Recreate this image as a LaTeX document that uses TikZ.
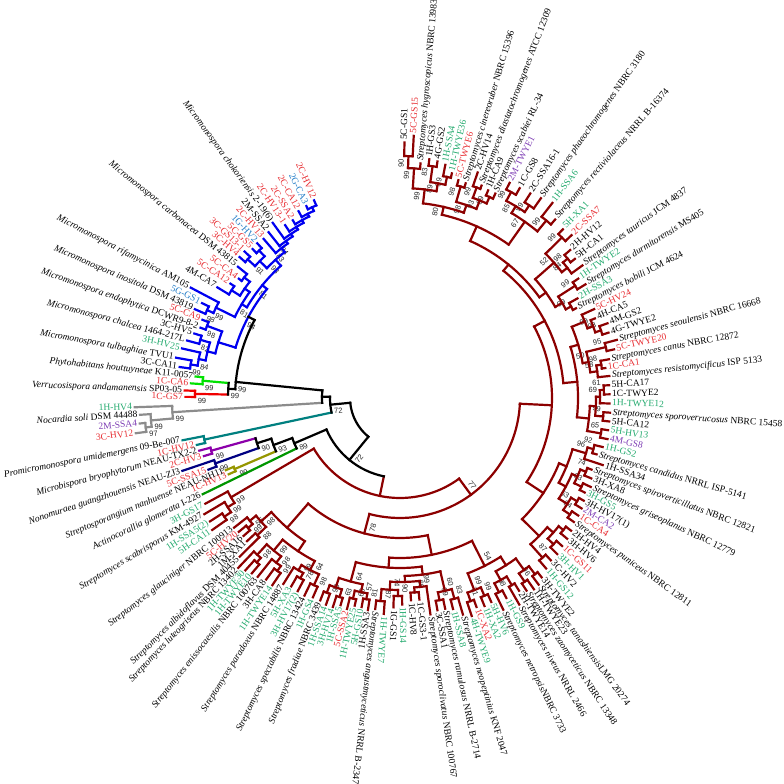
\documentclass[tikz,border=0pt]{standalone}
\usepackage{fontspec}
\setmainfont{Liberation Serif}
\setsansfont{Liberation Sans}

% branch colours
\definecolor{cstrep}{RGB}{140,0,0}
\definecolor{cblue}{RGB}{0,0,240}
\definecolor{clime}{RGB}{0,225,0}
\definecolor{cred}{RGB}{240,0,0}
\definecolor{cgray}{RGB}{140,140,140}
\definecolor{cteal}{RGB}{0,128,128}
\definecolor{cpurple}{RGB}{140,0,170}
\definecolor{cnavy}{RGB}{0,0,130}
\definecolor{colive}{RGB}{150,150,0}
\definecolor{cgreen}{RGB}{0,150,0}
% label colours
\definecolor{tred}{RGB}{232,45,50}
\definecolor{tgreen}{RGB}{35,170,110}
\definecolor{tblue}{RGB}{35,125,200}
\definecolor{tpurple}{RGB}{125,60,180}

\tikzset{
  branch/.style={line width=2.2pt, line cap=rect},
  leaflabel/.style={font=\fontsize{9.5}{11}\selectfont, inner sep=0pt},
  bootlabel/.style={font=\sffamily\fontsize{7.5}{8}\selectfont, inner sep=0pt, text=black!85}
}

\newcommand\putval[3]{\expandafter\xdef\csname #1@#2\endcsname{#3}}
\newcommand\getval[2]{\csname #1@#2\endcsname}
\newcommand\sname[2]{\textit{#1} #2}
\def\nob{-}

% leaf: index, angle, tip radius, label colour, branch colour, text
\newcommand\placeleaf[6]{%
  \pgfmathsetmacro\rr{#3-2.5}%
  \putval{ang}{#1}{#2}\putval{rad}{#1}{\rr}\putval{col}{#1}{#5}%
  \coordinate (P#1) at (#2:\rr pt);
  \ifdim #2pt<-98pt
    \node[leaflabel,text=#4,rotate=#2+180,anchor=mid east] (L#1) at (#2:#3pt) {#6};
  \else
    \node[leaflabel,text=#4,rotate=#2,anchor=mid west] (L#1) at (#2:#3pt) {#6};
  \fi}

% clade: name, first child, last child, radius, stem position, arc colour, stem colour, bootstrap
\newcommand\placeclade[8]{%
  \edef\af{\getval{ang}{#2}}\edef\al{\getval{ang}{#3}}%
  \edef\cf{\getval{col}{#2}}\edef\cl{\getval{col}{#3}}%
  \pgfmathsetmacro\am{\af+#5*(\al-\af)}%
  \putval{ang}{#1}{\am}\putval{rad}{#1}{#4}\putval{col}{#1}{#7}%
  \coordinate (P#1) at (\am:#4pt);
  \draw[branch,draw=\cf] (\af:#4pt) -- (P#2);
  \draw[branch,draw=\cl] (\al:#4pt) -- (P#3);
  \draw[branch,draw=#6] (\af:#4pt) arc[start angle=\af,end angle=\al,radius=#4pt];
  \edef\bv{#8}%
  \ifx\bv\nob\else
    \pgfmathsetmacro\ba{\am+420/#4}%
    \pgfmathsetmacro\br{#4-7}%
    \pgfmathsetmacro\rot{(\am<(-98))?(\am+180):(\am)}%
    \node[bootlabel,rotate=\rot] (B#1) at (\ba:\br pt) {#8};
  \fi}

\begin{document}
\begin{tikzpicture}[x=1pt,y=1pt]
\fill[white] (0,0) rectangle (784,784);
\useasboundingbox (0,0) rectangle (784,784);
\begin{scope}[shift={(400,386)}]

% Streptomyces leaves
\foreach \li/\lan/\ltp/\lco/\ltx in {
  1/89/258/black/5C-GS1, 2/87/265/tred/5C-GS15,
  3/85/238/black/{\sname{Streptomyces hygroscopicus}{NBRC 13983}},
  4/83/243/black/1H-GS3, 5/81/242/black/4G-GS2,
  6/79/240/tgreen/1H-SSA4, 7/77/233/tgreen/1H-TWYE36,
  8/75/228/tred/5C-TWYE6,
  9/73/227/black/{\sname{Streptomyces cinereoruber}{NBRC 15396}},
  10/71/241/black/2C-HV14,
  11/69/230/black/{\sname{Streptomyces diastatochromogenes}{ATCC 12309}},
  12/67/228/black/1H-CA9,
  13/65/228/black/{\sname{Streptomyces scabiei}{RL-34}},
  14/63/244/tpurple/2M-TWYE1, 15/60.3/244/black/1C-GS8,
  16/57.5/245/black/2C-SSA16-1,
  17/54.8/247/black/{\sname{Streptomyces phaeochromogenes}{NBRC 3180}},
  18/52/250/tgreen/1H-SSA6,
  19/49/239/black/{\sname{Streptomyces rectiviolaceus}{NRRL B-16374}},
  20/46/237/tgreen/5H-XA1, 21/43.5/239/tred/2C-SSA7,
  22/41/228/black/2H-HV12, 23/38.5/226/black/5H-CA1,
  24/36/228/black/{\sname{Streptomyces tauricus}{JCM 4837}},
  25/33.8/217/tgreen/1H-TWYE2,
  26/31.5/220/black/{\sname{Streptomyces durmitorensis}{MS405}},
  27/29.3/206/tgreen/2H-SSA3,
  28/27/200/black/{\sname{Streptomyces bobili}{JCM 4624}},
  29/24.6/216/tred/5C-HV24, 30/22.2/213/black/4H-CA5,
  31/19.8/223/black/4M-GS2, 32/17.4/221/black/4G-TWYE2,
  33/15/227/black/{\sname{Streptomyces seoulensis}{NBRC 16668}},
  34/12.8/222/tred/5C-TWYE20,
  35/10.5/215/black/{\sname{Streptomyces canus}{NBRC 12872}},
  36/8.3/210/tred/1C-CA1,
  37/6/213/black/{\sname{Streptomyces resistomycificus}{ISP 5133}},
  38/3.5/212/black/5H-CA17, 39/1/212/black/1C-TWYE2,
  40/-1.5/212/tgreen/1H-TWYE12,
  41/-4/213/black/{\sname{Streptomyces sporoverrucosus}{NBRC 15458}},
  42/-6.4/213/black/5H-CA12, 43/-8.8/213/tgreen/5H-HV13,
  44/-11.2/214/tpurple/4M-GS8, 45/-13.6/211/tgreen/1H-GS2,
  46/-16/207/black/{\sname{Streptomyces candidus}{NRRL ISP-5141}},
  47/-18.3/216/black/1H-SSA34,
  48/-20.5/207/black/{\sname{Streptomyces spiroverticillatus}{NBRC 12821}},
  49/-22.8/210/black/3H-XA8,
  50/-25/213/black/{\sname{Streptomyces griseoplanus}{NBRC 12779}},
  51/-27.1/210/tgreen/3H-GS5, 52/-29.2/213/black/3H-HV17(1),
  53/-31.3/215/tpurple/2M-CA2, 54/-33.4/216/tred/1C-CA4,
  55/-35.5/216/black/{\sname{Streptomyces puniceus}{NBRC 12811}},
  56/-37.8/219/black/2H-HV4, 57/-40.1/221/black/3H-HV6,
  58/-42.4/222/tred/1C-GS11, 59/-44.8/224/tgreen/3H-HV1,
  60/-47.1/224/black/3C-HV2, 61/-49.4/227/tgreen/1H-GS12,
  62/-51.7/231/black/3H-TWYE2,
  63/-53.4/235/black/{\textit{Streptomyces tanashiensis}LMG 20274},
  64/-55/236/black/1H-TWYE23,
  65/-56.7/233/black/{\sname{Streptomyces zaomyceticus}{NBRC 13348}},
  66/-58.3/229/black/2H-TWYE14,
  67/-60/241/black/{\sname{Streptomyces niveus}{NRRL 2466}},
  68/-62/229/tgreen/1H-GS9,
  69/-64/238/black/{\textit{Streptomyces netropsis}NBRC 3733},
  70/-65.9/226/tgreen/5H-HV6, 71/-67.9/227/tgreen/1H-XA2,
  72/-69.9/225/tred/1C-XA2, 73/-71.8/232/tgreen/4H-TWYE9,
  74/-73.8/228/black/{\sname{Streptomyces neopeptinius}{KNF 2047}},
  75/-75.9/220/tgreen/1H-SSA8,
  76/-77.9/218/black/{\sname{Streptomyces ramulosus}{NRRL B-2714}},
  77/-80/218/black/3C-SSA1,
  78/-82/221/black/{\sname{Streptomyces sporoclivatus}{NBRC 100767}},
  79/-84.5/205/black/1C-GS3-1, 80/-86.9/205/black/1C-HV8,
  81/-89.4/209/tgreen/1H-GS14, 82/-91.8/212/black/1G-GS1,
  83/-94.3/219/tgreen/1H-TWYE7,
  84/-96.7/215/black/{\sname{Streptomyces angustmyceticus}{NRRL B-2347}},
  85/-98.6/217/black/1H-SSA3, 86/-100.4/215/tgreen/5H-GS10,
  87/-102.3/215/tgreen/1H-TWYE25, 88/-104.1/220/tred/5C-SSA2,
  89/-106/218/tgreen/1H-SSA5, 90/-107.8/222/tgreen/3H-HV14,
  91/-109.7/222/tgreen/1H-SSA14,
  92/-111.5/220/black/{\sname{Streptomyces fradiae}{NBRC 3439}},
  93/-113.6/220/tgreen/1H-GS4,
  94/-115.8/222/black/{\sname{Streptomyces spectabilis}{NBRC 13424}},
  95/-117.9/221/tgreen/3H-HV17(2), 96/-120/220/tgreen/5H-XA3,
  97/-122.1/222/black/{\sname{Streptomyces paradoxus}{NBRC 14887}},
  98/-124.3/229/tgreen/1H-TWYE14, 99/-126.4/228/black/3H-CA8,
  100/-128.5/231/black/{\sname{Streptomyces enissocaesilis}{NBRC 100763}},
  101/-130.2/232/tgreen/1H-TWYE10, 102/-131.9/234/tgreen/1H-TWYE30,
  103/-133.6/237/black/{\sname{Streptomyces luteogriseus}{NBRC 13402}},
  104/-135.3/228/black/{\sname{Streptomyces albidoflavus}{DSM 40455}},
  105/-136.9/212/black/1M-XA1, 106/-138.6/211/black/2H-SSA16,
  107/-140.3/212/tred/5C-HV20,
  108/-142/213/black/{\sname{Streptomyces glauciniger}{NBRC 100913}},
  109/-144.9/232/tgreen/5H-CA11, 110/-147/229/tgreen/1H-SSA5(2),
  111/-149.3/230/black/{\sname{Streptomyces scabrisporus}{KM-4927}},
  112/-151.5/224/tgreen/3H-GS17}
  {\placeleaf{\li}{\lan}{\ltp}{\lco}{cstrep}{\ltx}}

% other genera
\foreach \li/\lan/\ltp/\lco/\lsc/\ltx in {
  113/-154/222/black/cgreen/{\sname{Actinocorallia glomerata}{I-226}},
  114/-156/190/tred/colive/1C-HV13,
  115/-157.5/191/black/colive/{\sname{Streptosporangium nanhuense}{NEAU-NH11}},
  116/-159.5/207/tred/cnavy/5C-SSA15,
  117/-161.5/232/black/cnavy/{\sname{Nonomuraea guangzhouensis}{NEAU-ZJ3}},
  118/-163.5/207/tred/cpurple/2C-HV3,
  119/-165.3/210/black/cpurple/{\sname{Microbispora bryophytorum}{NEAU-TX2-2}},
  120/-167/211/tred/cteal/1C-HV12,
  121/-169/224/black/cteal/{\sname{Promicromonospora umidemergens}{09-Be-007}},
  122/-172.4/269/tred/cgray/3C-HV12,
  123/-174.4/264/tpurple/cgray/2M-SSA4,
  124/-176.3/263/black/cgray/{\sname{Nocardia soli}{DSM 44488}},
  125/-178/268/tgreen/cgray/1H-HV4,
  126/-180.3/217/tred/cred/1C-GS7,
  127/-182/218/black/cred/{\sname{Verrucosispora andamanensis}{SP03-05}},
  128/-184/212/tred/clime/1C-CA6,
  129/-186/208/black/clime/{\sname{Phytohabitans houttuyneae}{K11-0057}},
  130/-188/225/black/cblue/3C-CA11,
  131/-190.2/230/black/cblue/{\sname{Micromonospora tulbaghiae}{TVU1}},
  132/-192.8/226/tgreen/cblue/3H-HV25,
  133/-195.1/223/black/cblue/{\sname{Micromonospora chalcea}{1464-217L}},
  134/-197.4/218/black/cblue/3C-HV5,
  135/-199.4/214/black/cblue/{\sname{Micromonospora endophytica}{DCWR9-8-2}},
  136/-201.6/215/tred/cblue/5C-CA9,
  137/-203.4/226/black/cblue/{\sname{Micromonospora inositola}{DSM 43819}},
  138/-205.6/222/tblue/cblue/5G-GS1,
  139/-207.8/239/black/cblue/{\sname{Micromonospora rifamycinica}{AM105}},
  140/-211.2/216/black/cblue/4M-CA7,
  141/-214/207/tred/cblue/5C-CA12,
  142/-216.5/203/tred/cblue/5C-CA4,
  143/-219/211/black/cblue/{\sname{Micromonospora carbonacea}{DSM 43815}},
  144/-221.3/216/tred/cblue/3C-HV4,
  145/-223.3/216/tred/cblue/3C-GS13-1,
  146/-225.3/212/tred/cblue/5C-GS5,
  147/-227.3/213/tblue/cblue/1G-HV2,
  148/-229.4/212/tred/cblue/2C-HV13,
  149/-231.6/214/black/cblue/2M-SSA2,
  150/-234/219/black/cblue/{\sname{Micromonospora chokoriensis}{2-19(6)}},
  151/-236.4/210/tred/cblue/2C-HV13-1,
  152/-238.9/210/tred/cblue/2C-SSA2,
  153/-241.5/215/tred/cblue/2C-CA12,
  154/-244/216/tblue/cblue/2G-CA3,
  155/-246.5/218/tred/cblue/2C-HV12}
  {\placeleaf{\li}{\lan}{\ltp}{\lco}{\lsc}{\ltx}}

% Streptomyces clades
\foreach \kn/\kf/\kl/\kr/\kb in {
  s1/1/2/242/90, s2/s1/3/230/99, s3/4/5/234/83, s4/6/7/226/99,
  s5/s3/s4/218/89, s6/s2/s5/210/99, s7/8/9/220/98, s8/10/11/224/99,
  s9/12/13/220/99, s10/s8/s9/213/93, s11/s7/s10/204/98, s12/s6/s11/196/80,
  s13/14/15/234/99, s14/16/17/232/99, s15/s13/s14/224/85, s16/18/19/230/99,
  s17/s15/s16/216/67, s18/s12/s17/188/-, s19/20/21/228/99, s20/22/23/218/98,
  s21/s20/24/212/84, s22/s19/s21/205/52, s23/25/26/208/99, s24/27/28/194/99,
  s25/s23/s24/188/-, s26/s22/s25/180/-, s27/s18/s26/172/-, s28/31/32/212/98,
  s29/30/s28/206/99, s30/29/s29/200/-, s31/33/34/212/95, s32/35/36/204/98,
  s33/s32/37/199/58, s34/s31/s33/192/50, s35/s30/s34/186/-, s36/38/39/204/61,
  s37/s36/40/200/69, s38/41/42/204/99, s39/s37/s38/196/-, s40/43/44/204/65,
  s41/s39/s40/190/-, s42/s35/s41/178/-, s43/s27/s42/164/-, s44/45/46/200/92,
  s45/s44/47/194/96, s46/48/49/200/74, s47/50/51/202/63, s48/s46/s47/194/-,
  s49/52/53/205/-, s50/54/55/206/84, s51/s49/s50/198/63, s52/s48/s51/188/-,
  s53/s45/s52/180/-, s54/56/57/210/-, s55/58/59/212/-, s56/s54/s55/204/-,
  s57/60/61/214/87, s58/s56/s57/196/-, s59/s53/s58/172/-, s60/s43/s59/152/-,
  s61/62/63/222/-, s62/64/65/222/96, s63/s61/s62/212/-, s64/66/67/218/-,
  s65/68/69/218/98, s66/s64/s65/208/-, s67/s63/s66/198/-, s68/70/71/215/99,
  s69/72/73/215/71, s70/s68/s69/206/99, s71/s67/s70/188/54, s72/74/75/208/83,
  s73/76/77/206/99, s74/s72/s73/198/60, s75/79/80/195/66, s76/78/s75/190/99,
  s77/81/82/198/90, s78/83/84/204/87, s79/s77/s78/192/74, s80/s76/s79/184/-,
  s81/s74/s80/178/-, s82/85/86/204/81, s83/87/88/206/60, s84/s82/s83/198/57,
  s85/89/90/208/63, s86/91/92/208/99, s87/s85/s86/200/-, s88/s84/s87/190/64,
  s89/s81/s88/170/-, s90/s71/s89/160/-, s91/93/94/206/98, s92/95/96/206/78,
  s93/s92/97/200/99, s94/s91/s93/194/64, s95/98/99/212/99, s96/s95/100/206/98,
  s97/101/102/218/-, s98/s97/103/212/98, s99/s96/s98/198/99, s100/s94/s99/184/-,
  s101/104/105/198/88, s102/106/107/200/99, s103/s102/108/194/55,
  s104/s101/s103/186/98, s105/s100/s104/172/-, s106/s90/s105/140/78,
  s107/s60/s106/120/77, s108/109/110/212/98, s109/s108/111/204/99,
  s110/s109/112/196/99, S/s107/s110/100/-}
  {\placeclade{\kn}{\kf}{\kl}{\kr}{.5}{cstrep}{cstrep}{\kb}}

% other clades and backbone
\foreach \kn/\kf/\kl/\kr/\kt/\ka/\ks/\kb in {
  p1/118/119/196/.5/cpurple/cpurple/99, n1/116/117/196/.5/cnavy/cnavy/99,
  o1/114/115/180/.5/colive/colive/99, k1/p1/n1/150/.5/black/black/90,
  k2/k1/o1/135/.5/black/black/93, k3/k2/113/115/.5/black/black/89,
  Z/k3/S/80/.5/black/black/72,
  g1/122/123/256/.5/cgray/cgray/97, g2/124/g1/250/.5/cgray/cgray/99,
  g3/125/g2/228/.5/cgray/cgray/99, t1/120/121/200/.5/cteal/cteal/-,
  r1/126/127/205/.5/cred/cred/99, gr1/128/129/198/.5/clime/clime/99,
  mrg/r1/gr1/172/.5/black/black/99,
  b1/130/131/212/.5/cblue/cblue/99, b2/b1/132/205/.5/cblue/cblue/84,
  b3/133/134/208/.5/cblue/cblue/82, b4/b2/b3/198/.5/cblue/cblue/-,
  b5/135/136/206/.5/cblue/cblue/98, b6/b4/b5/190/.5/cblue/cblue/-,
  b7/137/138/212/.5/cblue/cblue/98, b8/b7/139/205/.5/cblue/cblue/99,
  b9/140/141/200/.5/cblue/cblue/-, b10/142/143/197/.5/cblue/cblue/-,
  b11/b9/b10/190/.5/cblue/cblue/-, b12/b8/b11/184/.5/cblue/cblue/81,
  b13/144/145/206/.5/cblue/cblue/-, b14/146/147/204/.5/cblue/cblue/-,
  b15/b13/b14/196/.5/cblue/cblue/91,
  c1/154/155/210/.5/cblue/cblue/-, c2/153/c1/206/.5/cblue/cblue/-,
  c3/152/c2/203/.5/cblue/cblue/-, c4/151/c3/200/.5/cblue/cblue/-,
  c5/150/c4/197/.5/cblue/cblue/-, c6/149/c5/194/.5/cblue/cblue/84,
  c7/148/c6/191/.5/cblue/cblue/83, b18/b15/c7/186/.5/cblue/cblue/93,
  b19/b12/b18/178/.5/cblue/cblue/81, b20/b6/b19/172/.5/cblue/black/94,
  mall/b20/mrg/165/.9/black/black/99,
  Y1/mall/g3/78/.5/black/black/-, Y/Y1/t1/70/.5/black/black/72,
  root/Y/Z/50/.5/black/black/-}
  {\placeclade{\kn}{\kf}{\kl}{\kr}{\kt}{\ka}{\ks}{\kb}}

\end{scope}
\end{tikzpicture}
\end{document}
